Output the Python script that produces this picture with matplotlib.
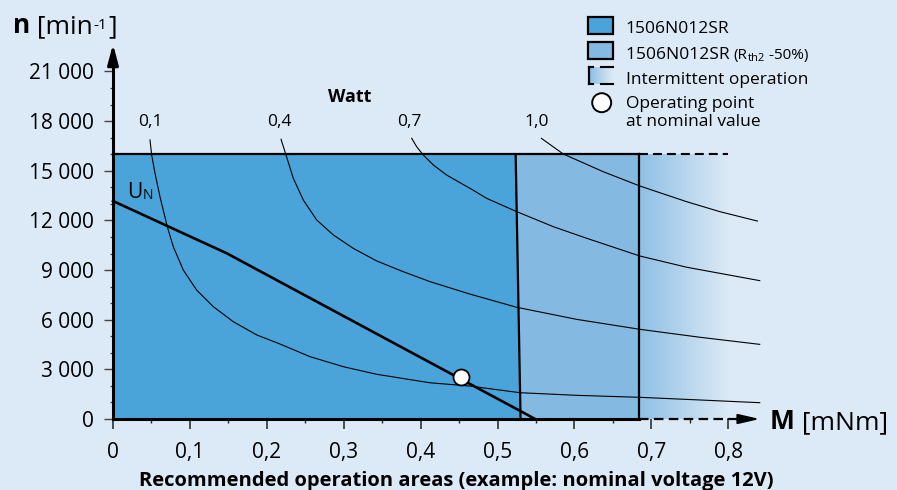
import matplotlib
matplotlib.use("Agg")
import numpy as np
import matplotlib.pyplot as plt
import matplotlib.transforms as mtransforms
from matplotlib.colors import LinearSegmentedColormap
from matplotlib.patches import Polygon, Rectangle, Circle

plt.rcParams['font.family'] = ['Open Sans', 'DejaVu Sans']

# ---- data ----
torque_ticks = [0, 0.1, 0.2, 0.3, 0.4, 0.5, 0.6, 0.7, 0.8]
torque_labels = ['0', '0,1', '0,2', '0,3', '0,4', '0,5', '0,6', '0,7', '0,8']
speed_ticks = [0, 3000, 6000, 9000, 12000, 15000, 18000, 21000]

speed_limit = 16000
cont_top, cont_bottom = 0.5236, 0.530      # 1506N012SR continuous limit
rth_limit = 0.684                          # Rth2 -50% limit
interm_end = 0.80

un_torque = [0, 0.148, 0.549]
un_speed = [13170, 10010, 0]
op_torque, op_speed = 0.452, 2560

watt_names = ['0,1', '0,4', '0,7', '1,0']
watt_label_m = [0.048, 0.217, 0.385, 0.551]
p01_m = [0.0481, 0.0503, 0.0546, 0.0611, 0.0706, 0.0784, 0.0914, 0.1088, 0.1304,
         0.1564, 0.1869, 0.2172, 0.256, 0.2995, 0.343, 0.412, 0.464, 0.529,
         0.603, 0.685, 0.763, 0.841]
p01_n = [16860, 15950, 14850, 13430, 11620, 10410, 9000, 7790, 6790,
         5880, 5080, 4530, 3770, 3160, 2700, 2190, 1990, 1590,
         1430, 1310, 1150, 985]
p04_m = [0.2185, 0.2250, 0.2345, 0.2475, 0.2648, 0.2865, 0.3125, 0.3429, 0.3775,
         0.4122, 0.464, 0.525, 0.603, 0.685, 0.763, 0.841]
p04_n = [16900, 15950, 14540, 13230, 12030, 11120, 10310, 9550, 8900,
         8300, 7550, 6750, 6020, 5420, 4940, 4510]
p07_m = [0.3884, 0.3949, 0.4035, 0.4165, 0.4339, 0.4512, 0.4664, 0.486, 0.525,
         0.5726, 0.616, 0.685, 0.746, 0.841]
p07_n = [16960, 16450, 15950, 15350, 14740, 14280, 13880, 13330, 12530,
         11620, 10920, 9850, 9170, 8360]
p10_m = [0.557, 0.5856, 0.6376, 0.685, 0.746, 0.789, 0.838]
p10_n = [16960, 16010, 14940, 14080, 13130, 12530, 11960]

# ---- colours ----
BG = '#dce9f6'
DARK = '#4aa4d9'
LIGHT = '#84b9e2'
FADE = '#8fc0e5'

W, H = 897, 490
fig = plt.figure(figsize=(W / 100, H / 100), dpi=100)
fig.patch.set_facecolor(BG)
ax = fig.add_axes([0, 0, 1, 1])
ax.set_facecolor(BG)
# origin at pixel (113, 419); 769 px per mNm, 16.55 px per 1000 min-1
ax.set_xlim(-113 / 769, (W - 113) / 769)
ax.set_ylim(-(H - 419) / 0.01655, 419 / 0.01655)

# pixel coordinates, origin top-left (for the legend and titles)
pxT = mtransforms.Affine2D().scale(1 / W, -1 / H).translate(0, 1) + fig.transFigure

# regions
ax.add_patch(Polygon([(0, 0), (0, speed_limit), (cont_top, speed_limit), (cont_bottom, 0)],
                     closed=True, fc=DARK, ec='none', zorder=1))
ax.add_patch(Polygon([(cont_top, speed_limit), (rth_limit, speed_limit), (rth_limit, 0),
                      (cont_bottom, 0)], closed=True, fc=LIGHT, ec='none', zorder=1))
fade = LinearSegmentedColormap.from_list('fade', [FADE, BG])
ax.imshow(np.linspace(0, 1, 200).reshape(1, -1), cmap=fade, aspect='auto',
          extent=[rth_limit, interm_end, 0, speed_limit], zorder=1, interpolation='bilinear')

ax.plot([0, rth_limit], [speed_limit, speed_limit], color='black', lw=1.6, zorder=3)
ax.plot([cont_top, cont_bottom], [speed_limit, 0], color='black', lw=1.6, zorder=3)
ax.plot([rth_limit, rth_limit], [0, speed_limit], color='black', lw=1.6, zorder=3)
ax.plot([rth_limit, interm_end], [speed_limit, speed_limit], color='black', lw=1.5,
        ls=(0, (4.3, 2.4)), zorder=3)

# power curves
for m, n in [(p01_m, p01_n), (p04_m, p04_n), (p07_m, p07_n), (p10_m, p10_n)]:
    ax.plot(m, n, color='black', lw=0.8, zorder=4, solid_joinstyle='round')
for name, xm in zip(watt_names, watt_label_m):
    ax.text(xm, 17930, name, ha='center', va='center', fontsize=12.5, zorder=5)
ax.text(0.308, 19470, 'Watt', ha='center', va='center', fontsize=13,
        fontweight='bold', zorder=5)

# nominal voltage line and operating point
ax.plot(un_torque, un_speed, color='black', lw=1.9, zorder=5)
ax.plot([op_torque], [op_speed], 'o', ms=11.5, mfc='white', mec='black', mew=1.3, zorder=6)
tu = ax.text(0.018, 13350, 'U', ha='left', va='baseline', fontsize=15, zorder=5)
ax.annotate('N', xy=(1, 0), xycoords=tu, xytext=(0.5, 0), textcoords='offset points',
            ha='left', va='bottom', fontsize=10, zorder=5)

# axes
for s in ['top', 'right']:
    ax.spines[s].set_visible(False)
ax.spines['left'].set_position(('data', 0))
ax.spines['bottom'].set_position(('data', 0))
ax.spines['left'].set_bounds(0, 21800)
ax.spines['bottom'].set_bounds(0, rth_limit)
for s in ['left', 'bottom']:
    ax.spines[s].set_linewidth(2.2)
    ax.spines[s].set_zorder(6)
ax.plot([rth_limit, 0.815], [0, 0], color='black', lw=1.6, ls=(0, (4.3, 2.4)),
        zorder=6, clip_on=False)
ax.annotate('', xy=(0, 22650), xytext=(0, 21500),
            arrowprops=dict(arrowstyle='-|>,head_length=1.2,head_width=0.32',
                            color='black', lw=2.2, shrinkA=0, shrinkB=0), zorder=7)
ax.annotate('', xy=(0.841, 0), xytext=(0.80, 0),
            arrowprops=dict(arrowstyle='-|>,head_length=1.3,head_width=0.3',
                            color='black', lw=1.4, shrinkA=0, shrinkB=0), zorder=7)

ax.set_xticks(torque_ticks, labels=torque_labels)
ax.set_xticks([0.05, 0.15, 0.25, 0.35, 0.45, 0.55, 0.65, 0.75], minor=True)
ax.set_yticks(speed_ticks, labels=[f'{v:,}'.replace(',', ' ') for v in speed_ticks])
ax.set_yticks([v for v in range(1000, 21001, 1000) if v % 3000], minor=True)
ax.tick_params(axis='x', which='major', direction='out', length=7.5, width=1.1,
               pad=9, labelsize=15, color='#222222')
ax.tick_params(axis='x', which='minor', direction='out', length=3, width=1.0, color='#222222')
ax.tick_params(axis='y', which='major', direction='out', length=6.5, width=1.0,
               pad=7.5, labelsize=15, color='#444444')
ax.tick_params(axis='y', which='minor', direction='out', length=2.2, width=0.9, color='#444444')

# axis titles
tn = ax.text(13, 33, 'n', transform=pxT, ha='left', va='baseline', fontsize=19,
             fontweight='bold')
tb = ax.annotate(' [min', xy=(1, 0), xycoords=tn, ha='left', va='bottom', fontsize=19)
ts = ax.annotate('-1', xy=(1, 1), xycoords=tb, xytext=(0.5, -3), textcoords='offset points',
                 ha='left', va='top', fontsize=11)
ax.annotate(']', xy=(1, 0), xycoords=tb, xytext=(ts.get_window_extent(fig.canvas.get_renderer()).width * 0.72 + 1, 0),
            textcoords='offset points', ha='left', va='bottom', fontsize=19)
tm = ax.text(770, 429, 'M', transform=pxT, ha='left', va='baseline', fontsize=19,
             fontweight='bold')
ax.annotate(' [mNm]', xy=(1, 0), xycoords=tm, ha='left', va='bottom', fontsize=19)
ax.text(456, 486, 'Recommended operation areas (example: nominal voltage 12V)',
        transform=pxT, ha='center', va='baseline', fontsize=14.5, fontweight='bold')

# legend
ax.add_patch(Rectangle((588, 17), 25, 17, transform=pxT, fc=DARK, ec='black', lw=1.6,
                       zorder=8))
ax.add_patch(Rectangle((588, 42), 25, 17, transform=pxT, fc=LIGHT, ec='black', lw=1.6,
                       zorder=8))
ax.imshow(np.linspace(0, 1, 50).reshape(1, -1), cmap=fade, aspect='auto',
          extent=[590, 613, 84, 67], transform=pxT, zorder=8)
for yy in (67.5, 84):
    ax.plot([589, 593], [yy, yy], color='black', lw=1.5, transform=pxT, zorder=9)
    ax.plot([601, 613], [yy, yy], color='black', lw=1.5, transform=pxT, zorder=9)
ax.plot([589, 589], [67.5, 84], color='black', lw=1.6, transform=pxT, zorder=9)
ax.add_patch(Circle((601.7, 102.7), 9.5, transform=pxT, fc='white', ec='black', lw=1.4,
                    zorder=9))

LFS = 12.5
ax.text(625.7, 33.3, '1506N012SR', transform=pxT, ha='left', va='baseline', fontsize=LFS)
t2 = ax.text(625.7, 59, '1506N012SR ', transform=pxT, ha='left', va='baseline', fontsize=LFS)
t3 = ax.annotate('(R', xy=(1, 0), xycoords=t2, ha='left', va='bottom', fontsize=11)
t4 = ax.annotate('th2', xy=(1, 0), xycoords=t3, xytext=(0, -1), textcoords='offset points',
                 ha='left', va='bottom', fontsize=8)
ax.annotate(' -50%)', xy=(1, 0), xycoords=t4, xytext=(0, 1), textcoords='offset points',
            ha='left', va='bottom', fontsize=11)
ax.text(625.7, 84, 'Intermittent operation', transform=pxT, ha='left', va='baseline',
        fontsize=LFS)
ax.text(625.7, 108.3, 'Operating point', transform=pxT, ha='left', va='baseline', fontsize=LFS)
ax.text(625.7, 126, 'at nominal value', transform=pxT, ha='left', va='baseline', fontsize=LFS)

fig.savefig('out.png', dpi=100, facecolor=BG)
